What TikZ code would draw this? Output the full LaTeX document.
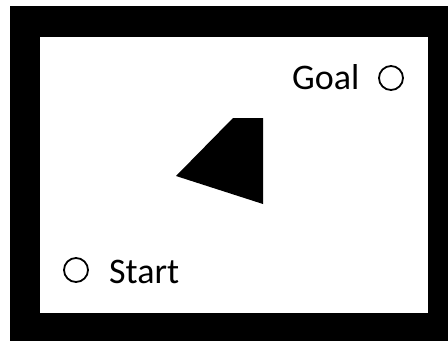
\documentclass[tikz,border=0pt]{standalone}
\usepackage{fontspec}
\setmainfont{Carlito}
\begin{document}
\begin{tikzpicture}[x=1pt,y=-1pt,
  lbl/.style={inner sep=0pt,font=\fontsize{36}{40}\selectfont},
  marker/.style={draw=black,line width=1.8pt}]
\useasboundingbox (0,0) rectangle (448,341);
\fill[white] (0,0) rectangle (448,341);
\fill[black] (10,6) rectangle (448,341);
\fill[white] (40,37) rectangle (428,313);
\fill[black] (233,118) -- (263,118) -- (263,204) -- (176,176) -- cycle;
\coordinate (goalc) at (391,78);
\draw[marker] (goalc) circle[radius=12pt];
\node[lbl,anchor=base west] (goal) at (292,89) {Goal};
\coordinate (startc) at (76,270);
\draw[marker] (startc) circle[radius=12pt];
\node[lbl,anchor=base west] (start) at (109,283) {Start};
\end{tikzpicture}
\end{document}
